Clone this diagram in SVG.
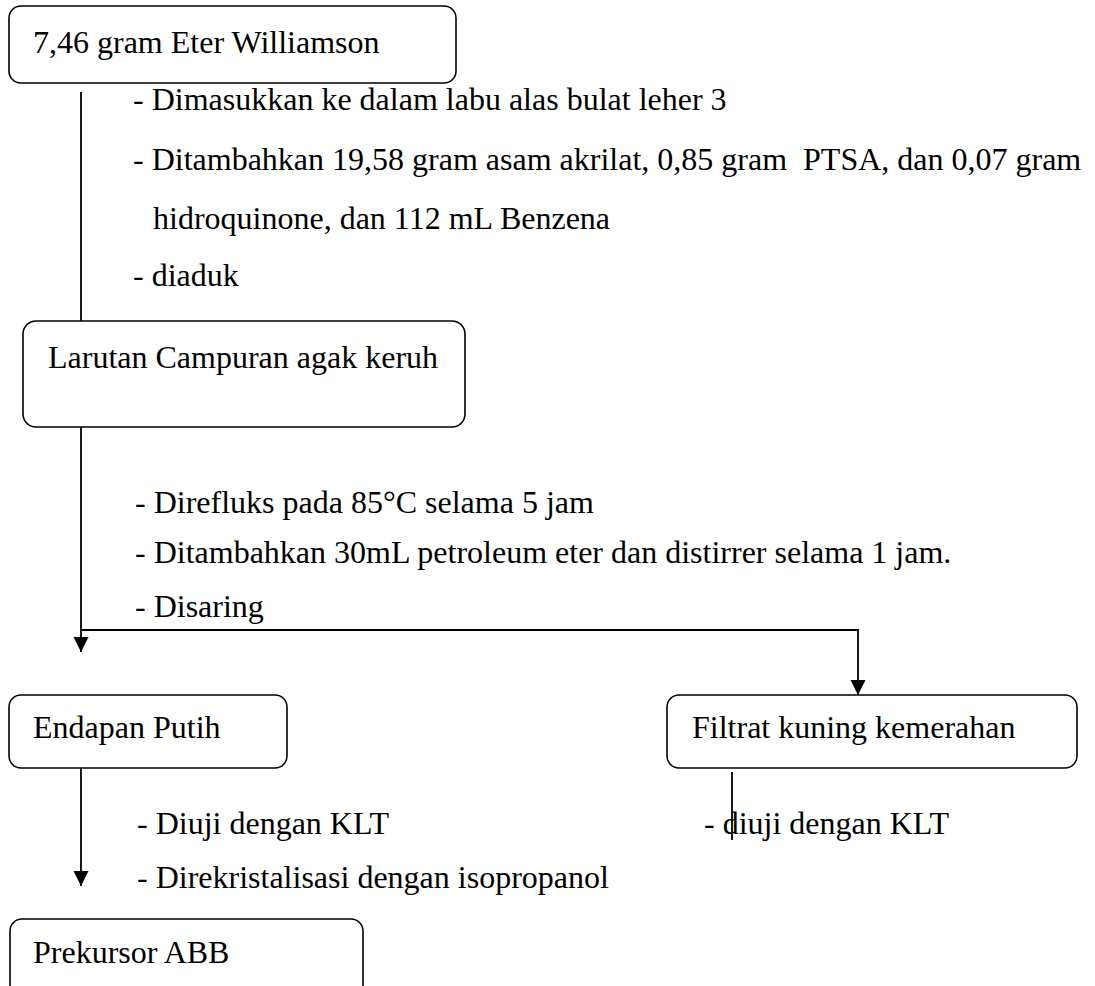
<svg xmlns="http://www.w3.org/2000/svg" width="1095" height="986" viewBox="0 0 1095 986">
  <style>
    .box { fill: #ffffff; stroke: #000000; stroke-width: 1.6; }
    .txt { font-family: "Liberation Serif", "Times New Roman", serif; font-size: 32px; fill: #000000; }
    .ln { fill: none; stroke: #000000; stroke-width: 1.8; }
  </style>
  <defs>
    <marker id="arrow" viewBox="0 0 15 16" refX="15" refY="8" markerWidth="15" markerHeight="16" markerUnits="userSpaceOnUse" orient="auto">
      <path d="M0,0.5 L15,8 L0,15.5 Z" fill="#000000"/>
    </marker>
  </defs>
  <rect width="1095" height="986" fill="#ffffff"/>

  <!-- connectors -->
  <g id="connectors">
    <line class="ln" x1="81" y1="92" x2="81" y2="321"/>
    <line class="ln" x1="81" y1="427" x2="81" y2="652" marker-end="url(#arrow)"/>
    <polyline class="ln" points="81,630 858,630 858,695" marker-end="url(#arrow)"/>
    <line class="ln" x1="81" y1="768" x2="81" y2="886" marker-end="url(#arrow)"/>
    <line class="ln" x1="732" y1="772" x2="732" y2="840"/>
  </g>

  <!-- process steps -->
  <g id="steps-1" class="txt">
    <text x="133" y="110">- Dimasukkan ke dalam labu alas bulat leher 3</text>
    <text x="133" y="170">- Ditambahkan 19,58 gram asam akrilat, 0,85 gram&#160; PTSA, dan 0,07 gram</text>
    <text x="153" y="229">hidroquinone, dan 112 mL Benzena</text>
    <text x="133" y="286">- diaduk</text>
  </g>
  <g id="steps-2" class="txt">
    <text x="135" y="513">- Direfluks pada 85°C selama 5 jam</text>
    <text x="135" y="563">- Ditambahkan 30mL petroleum eter dan distirrer selama 1 jam.</text>
    <text x="135" y="617">- Disaring</text>
  </g>
  <g id="steps-3" class="txt">
    <text x="137" y="834">- Diuji dengan KLT</text>
    <text x="137" y="888">- Direkristalisasi dengan isopropanol</text>
  </g>
  <g id="steps-4" class="txt">
    <text x="704" y="834">- diuji dengan KLT</text>
  </g>

  <!-- nodes -->
  <g id="node-eter">
    <rect class="box" x="9" y="6" width="447" height="77" rx="12"/>
    <text class="txt" x="33" y="53">7,46 gram Eter Williamson</text>
  </g>
  <g id="node-larutan">
    <rect class="box" x="23" y="321" width="442" height="106" rx="13"/>
    <text class="txt" x="48" y="368">Larutan Campuran agak keruh</text>
  </g>
  <g id="node-endapan">
    <rect class="box" x="9" y="695" width="278" height="73" rx="12"/>
    <text class="txt" x="33" y="738">Endapan Putih</text>
  </g>
  <g id="node-filtrat">
    <rect class="box" x="667" y="695" width="410" height="73" rx="12"/>
    <text class="txt" x="692" y="738">Filtrat kuning kemerahan</text>
  </g>
  <g id="node-prekursor">
    <rect class="box" x="10" y="919" width="353" height="90" rx="12"/>
    <text class="txt" x="33" y="963">Prekursor ABB</text>
  </g>
</svg>
